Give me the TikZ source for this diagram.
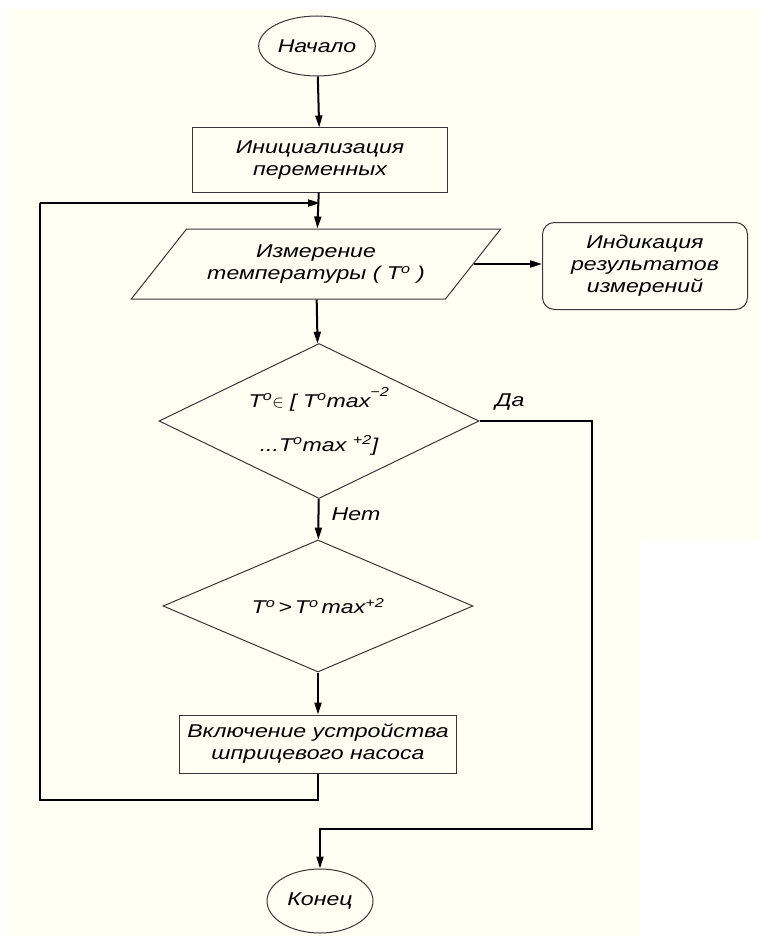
\documentclass[tikz,border=0pt]{standalone}
\usepackage{fontspec}
\setmainfont{Liberation Sans}[FakeStretch=1.25]
\usetikzlibrary{shapes.geometric,arrows.meta}
\definecolor{paper}{RGB}{255,255,243}
\definecolor{edgegray}{RGB}{55,55,55}

\begin{document}
\begin{tikzpicture}[x=1pt,y=-1pt,
    every node/.style={font=\fontsize{18.5}{22}\selectfont\itshape,align=center,text=black},
    block/.style={draw=edgegray,line width=1pt,inner sep=2pt},
    terminal/.style={block,ellipse},
    process/.style={block,rectangle},
    inout/.style={block,trapezium,trapezium left angle=42,trapezium right angle=138,trapezium stretches=true},
    decision/.style={block,diamond,aspect=2,inner sep=0pt},
    display/.style={block,rectangle,rounded corners=12pt},
    flow/.style={line width=2pt,-{Triangle[length=12pt,width=7pt]}},
    link/.style={line width=2pt}]
        \useasboundingbox (0,0) rectangle (760,936);
        % Draw the sheet
        \fill[paper] (8,9) -- (760,9) -- (760,540) -- (640,540) -- (640,936) -- (8,936) -- cycle;
        % Blocks
        \node[terminal,minimum width=111pt,minimum height=60pt] (start) at (317,46) {Начало};
        \node[process,minimum width=255pt,minimum height=64pt] (init) at (320,160) {Инициализация\\переменных};
        \node[inout,minimum width=370pt,minimum height=70pt] (meas) at (316,264) {Измерение\\температуры ( T\textsuperscript{o} )};
        \node[display,minimum width=205pt,minimum height=87pt] (ind) at (645,266) {Индикация\\результатов\\измерений};
        \node[decision,minimum width=320pt,minimum height=155pt] (check) at (319,421)
            {T\textsuperscript{o}$\in$ [ T\textsuperscript{o}max\raisebox{0.5ex}{\textsuperscript{−2}}\\[22pt] ...T\textsuperscript{o}max \textsuperscript{+2}]};
        \node[decision,minimum width=310pt,minimum height=132pt] (over) at (318,606)
            {T\textsuperscript{o}\,>\,T\textsuperscript{o}\,max\textsuperscript{+2}};
        \node[process,minimum width=277pt,minimum height=58pt] (pump) at (318,744) {Включение устройства\\шприцевого насоса};
        \node[terminal,minimum width=106pt,minimum height=64pt] (stop) at (320,901) {Конец};
        % Labels of the branches
        \node (yes) at (510,402) {Да};
        \node (no) at (356,514) {Нет};
        % Corners of the lines
        \coordinate (loopbot) at (40,800);
        \coordinate (looptop) at (40,203);
        \coordinate (yesbot) at (592,829);
        % Draw the arrows
        \draw[flow] (start) -- (init);
        \draw[flow] (init) -- (meas);
        \draw[flow] (meas.east) -- (meas.east -| ind.west);
        \draw[flow] (meas) -- (check);
        \draw[flow] (check) -- (over);
        \draw[flow] (over) -- (pump);
        % Draw the loop back
        \draw[link] (pump.south) |- (loopbot) -- (looptop);
        \draw[flow] (looptop) -- (looptop -| init.south);
        % Draw the way out
        \draw[flow] (check.east) -| (yesbot) -| (stop.north);
    \end{tikzpicture}
\end{document}
